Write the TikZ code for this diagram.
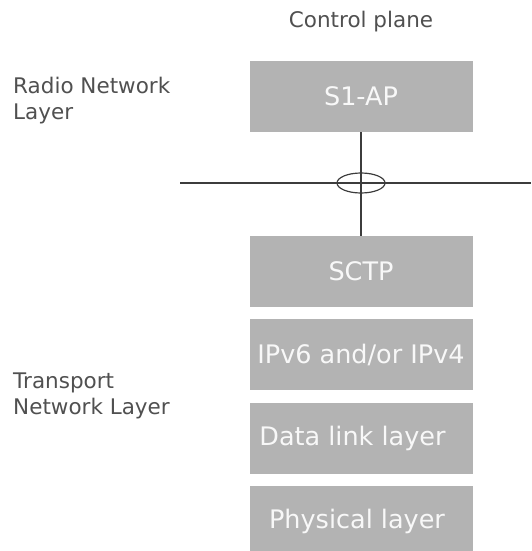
\documentclass[tikz,border=0pt]{standalone}
\usepackage{fontspec}
\setmainfont{DejaVu Sans}
\usetikzlibrary{shapes.geometric}
\definecolor{layerfill}{RGB}{179,179,179}
\definecolor{layertext}{RGB}{248,248,248}
\definecolor{captiongray}{RGB}{80,80,80}
\definecolor{wiregray}{RGB}{60,60,60}
\tikzset{
  layerbox/.style={fill=layerfill, draw=none, minimum width=223pt, minimum height=71pt,
    inner sep=0pt, text=layertext, font=\fontsize{25.5}{30}\selectfont},
  caption/.style={text=captiongray, inner sep=0pt, align=left,
    font=\fontsize{21.5}{25.5}\selectfont},
  wire/.style={draw=wiregray, line width=1.2pt},
}
\begin{document}
\begin{tikzpicture}[x=1pt, y=-1pt]
  \useasboundingbox (0,0) rectangle (531,551);

  % column heading and layer captions (base anchor sits on the last line)
  \node[caption, anchor=base] (heading) at (361,28) {Control plane};
  \node[caption, anchor=base west] (rnl) at (13,119) {Radio Network\\Layer};
  \node[caption, anchor=base west] (tnl) at (13,414) {Transport\\Network Layer};

  % protocol stack
  \node[layerbox] (s1ap) at (361,96.5) {S1-AP};
  \node[layerbox] (sctp) at (361,271.5) {SCTP};
  \node[layerbox] (ip)   at (361,354.5) {IPv6 and/or IPv4};
  \node[layerbox] (dl)   at (361,438) {\hspace*{-17pt}Data link layer};
  \node[layerbox] (phy)  at (361,521.5) {\hspace*{-8pt}Physical layer};

  % boundary between the two layers, crossed by the S1-AP/SCTP link
  \coordinate (bleft) at (180,183);
  \coordinate (bright) at (531,183);
  \draw[wire] (bleft) -- (bright);
  \draw[wire] (s1ap.south) -- (sctp.north);
  \node[ellipse, wire, minimum width=48pt, minimum height=20pt, inner sep=0pt] (tie) at (361,183) {};
\end{tikzpicture}
\end{document}
